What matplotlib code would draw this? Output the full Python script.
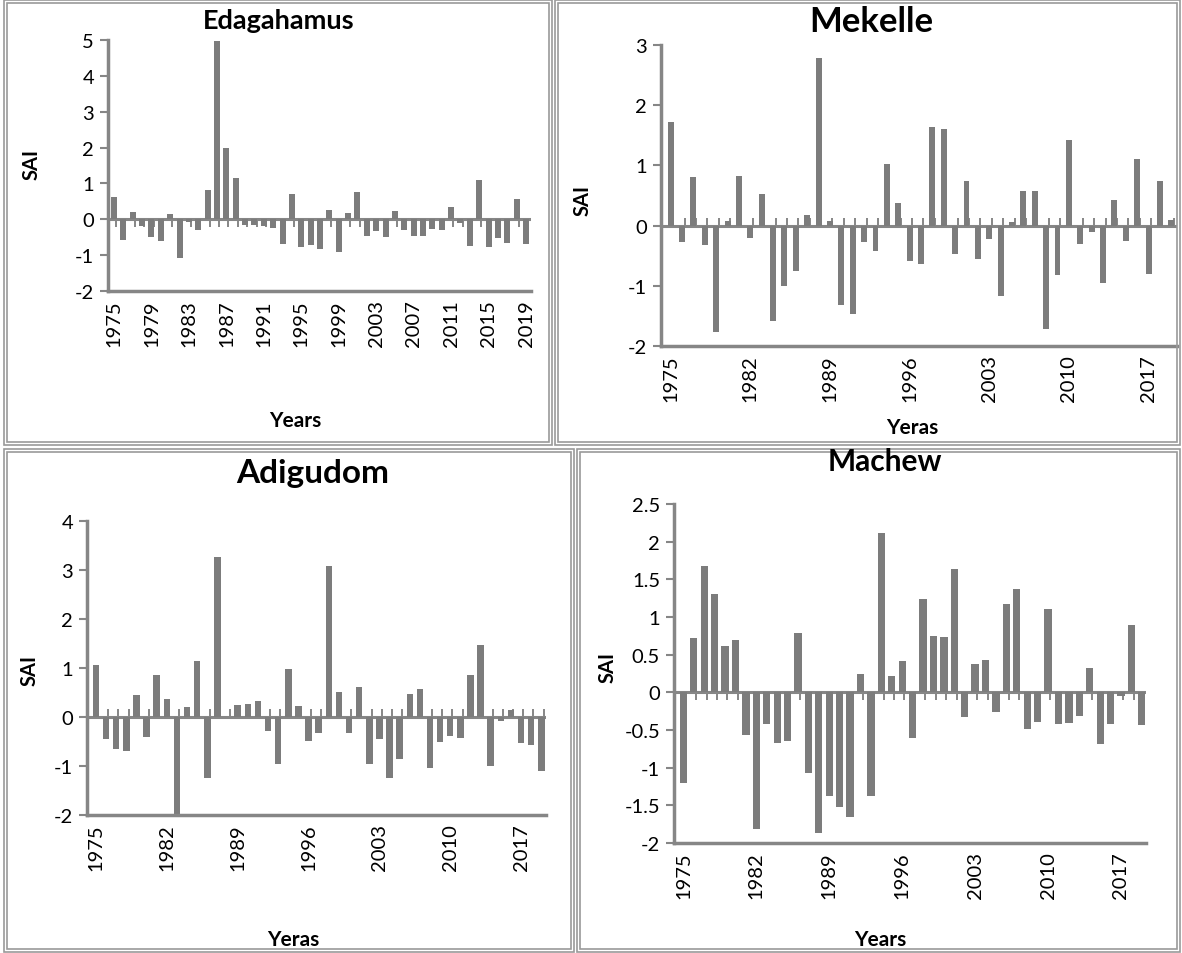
import matplotlib
matplotlib.use("Agg")
import matplotlib.pyplot as plt
from matplotlib.patches import Rectangle
import numpy as np

plt.rcParams["font.family"] = ["Lato", "DejaVu Sans"]

years = list(range(1975, 2020))

edagahamus = [0.63, -0.58, 0.2, -0.2, -0.5, -0.6, 0.14, -1.08, -0.08, -0.3,
              0.82, 4.97, 1.98, 1.14, -0.15, -0.15, -0.2, -0.25, -0.68, 0.7,
              -0.78, -0.73, -0.83, 0.25, -0.9, 0.17, 0.77, -0.47, -0.34, -0.49,
              0.23, -0.3, -0.47, -0.47, -0.26, -0.29, 0.33, -0.1, -0.75, 1.1,
              -0.78, -0.53, -0.66, 0.56, -0.7]

mekelle = [1.72, -0.28, 0.81, -0.32, -1.76, 0.07, 0.82, -0.2, 0.52, -1.59,
           -1.0, -0.75, 0.18, 2.78, 0.07, -1.32, -1.47, -0.27, -0.42, 1.02,
           0.37, -0.59, -0.63, 1.63, 1.6, -0.47, 0.74, -0.56, -0.22, -1.17,
           0.06, 0.58, 0.58, -1.71, -0.82, 1.43, -0.31, -0.11, -0.95, 0.43,
           -0.26, 1.1, -0.81, 0.74, 0.1]

adigudom = [1.07, -0.44, -0.66, -0.7, 0.44, -0.41, 0.86, 0.37, -2.0, 0.2,
            1.14, -1.25, 3.26, 0.0, 0.24, 0.26, 0.32, -0.29, -0.96, 0.97,
            0.22, -0.49, -0.32, 3.09, 0.52, -0.32, 0.61, -0.95, -0.45, -1.24,
            -0.86, 0.47, 0.58, -1.04, -0.51, -0.39, -0.43, 0.86, 1.47, -1.0,
            -0.09, 0.15, -0.53, -0.57, -1.11]

machew = [-1.2, 0.72, 1.68, 1.31, 0.61, 0.7, -0.56, -1.82, -0.42, -0.67,
          -0.65, 0.79, -1.07, -1.87, -1.37, -1.52, -1.65, 0.24, -1.38, 2.11,
          0.22, 0.42, -0.6, 1.24, 0.75, 0.74, 1.64, -0.33, 0.38, 0.43,
          -0.26, 1.17, 1.37, -0.49, -0.4, 1.11, -0.42, -0.41, -0.32, 0.32,
          -0.68, -0.42, -0.05, 0.89, -0.44]

W, H = 1182, 954
GRAY = "#868686"
BAR = "#7c7c7c"

fig = plt.figure(figsize=(W / 100, H / 100), dpi=100)


def px(x0, y0, x1, y1):
    # pixel box (top-left origin) -> figure fraction rect
    return [x0 / W, 1 - y1 / H, (x1 - x0) / W, (y1 - y0) / H]


def box(x0, y0, x1, y1):
    for d in (0, 3):
        fig.patches.append(Rectangle(((x0 + d) / W, 1 - (y1 - d) / H),
                                     (x1 - x0 - 2 * d) / W, (y1 - y0 - 2 * d) / H,
                                     transform=fig.transFigure, fill=False,
                                     edgecolor="#9a9a9a", linewidth=1.2))


box(4, 1, 552, 446)
box(555, 1, 1180, 446)
box(4, 450, 574, 953)
box(577, 450, 1180, 953)


def panel(rect, values, ylim, yticks, ytlabels, xstep, xlim, width, tick_dir):
    ax = fig.add_axes(rect)
    x = np.arange(len(years))
    ax.bar(x, values, width=width, color=BAR, zorder=2)
    ax.axhline(0, color=GRAY, lw=2.2, zorder=1)
    ax.plot(x + 0.22, np.zeros(len(x)), ls="none", marker=tick_dir,
            markersize=6, mew=1.4, color=GRAY, zorder=1)
    ax.set_xlim(*xlim)
    ax.set_ylim(*ylim)
    ax.set_yticks(yticks)
    ax.set_yticklabels(ytlabels)
    ax.set_xticks(x[::xstep])
    ax.set_xticklabels([str(y) for y in years[::xstep]], rotation=90)
    for s in ("top", "right"):
        ax.spines[s].set_visible(False)
    for s in ("left", "bottom"):
        ax.spines[s].set_color(GRAY)
        ax.spines[s].set_linewidth(2.5)
    ax.tick_params(axis="y", length=6, width=1.5, color=GRAY, labelsize=14.5, pad=4)
    ax.tick_params(axis="x", length=0, labelsize=14.5, pad=6)
    ax.set_facecolor("none")
    return ax


panel(px(108, 41, 531, 292), edagahamus, (-2, 5), range(-2, 6),
      [str(v) for v in range(-2, 6)], 4, (-0.64, 44.53), 0.64, 3)
panel(px(661, 46, 1177, 347), mekelle, (-2, 3), range(-2, 4),
      [str(v) for v in range(-2, 4)], 7, (-0.85, 44.5), 0.52, 2)
panel(px(87, 522, 546, 816), adigudom, (-2, 4), range(-2, 5),
      [str(v) for v in range(-2, 5)], 7, (-0.89, 44.46), 0.64, 2)
mt = np.arange(-2, 2.51, 0.5)
panel(px(674, 505, 1146, 844), machew, (-2, 2.5), mt,
      ["%g" % v for v in mt], 7, (-0.9, 44.4), 0.7, 3)


def ftext(x, y, s, size, rot=0):
    fig.text(x / W, 1 - y / H, s, fontsize=size, fontweight="bold",
             ha="center", va="center", rotation=rot)


ftext(279, 21, "Edagahamus", 19.5)
ftext(871, 22, "Mekelle", 25)
ftext(313, 474, "Adigudom", 24)
ftext(885, 462, "Machew", 21.5)

ftext(32, 165, "SAI", 14.5, 90)
ftext(583, 200, "SAI", 14.5, 90)
ftext(30, 670, "SAI", 14.5, 90)
ftext(608, 668, "SAI", 14.5, 90)

ftext(295, 421, "Years", 15)
ftext(912, 428, "Yeras", 15)
ftext(293, 940, "Yeras", 15)
ftext(880, 940, "Years", 15)

fig.savefig("out.png", dpi=100)
